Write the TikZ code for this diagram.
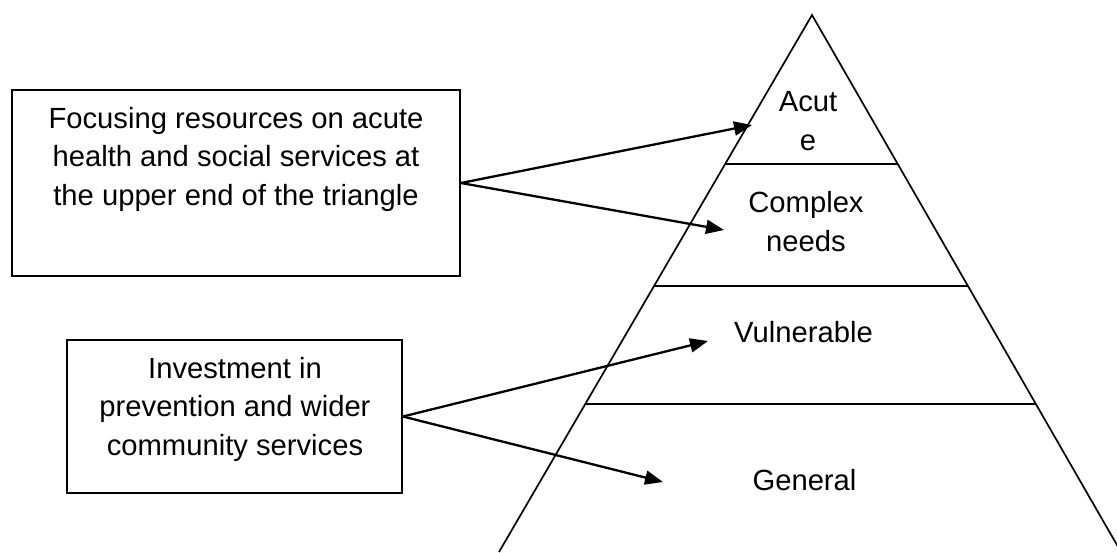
\documentclass[tikz,border=0pt]{standalone}
\usepackage{fontspec}
\setmainfont{Liberation Sans}
\usetikzlibrary{calc,arrows.meta}
\tikzset{
  lbl/.style={inner sep=0pt, align=center, font=\fontsize{14.6}{19.25}\selectfont},
  boxshape/.style={draw, line width=0.9pt, inner sep=0pt},
  tri/.style={line width=0.85pt, line join=miter},
  band/.style={line width=0.9pt},
  arr/.style={line width=1.15pt, -{Triangle[length=9pt,width=7pt]}}
}
\begin{document}
\begin{tikzpicture}[x=0.5pt,y=-0.5pt]
\useasboundingbox (0,0) rectangle (1117,552);
\clip (0,0) rectangle (1117,552);
% triangle
\coordinate (apex) at (812,15);
\coordinate (bl) at (499,552);
\coordinate (br) at (1121,552);
\draw[tri] (bl) -- (apex) -- (br);
\draw[band] ($(apex)!0.2775!(bl)$) -- ($(apex)!0.2775!(br)$);
\draw[band] ($(apex)!0.5047!(bl)$) -- ($(apex)!0.5047!(br)$);
\draw[band] ($(apex)!0.7244!(bl)$) -- ($(apex)!0.7244!(br)$);
% level labels
\node[lbl] (acute) at (808,121) {Acut\\e};
\node[lbl] (complex) at (806,221.5) {Complex\\needs};
\node[lbl, anchor=base] (vuln) at (803.5,342) {Vulnerable};
\node[lbl, anchor=base] (general) at (804.5,490) {General};
% boxes
\node[boxshape, minimum width=224pt, minimum height=93pt] (box1) at (236,183) {};
\node[lbl] (t1) at (236,159) {Focusing resources on acute\\health and social services at\\the upper end of the triangle};
\node[boxshape, minimum width=167.5pt, minimum height=76.5pt] (box2) at (234.5,416.5) {};
\node[lbl] (t2) at (235,409) {Investment in\\prevention and wider\\community services};
% arrow tips
\coordinate (a1) at (752,125);
\coordinate (a2) at (724,230);
\coordinate (a3) at (708,341);
\coordinate (a4) at (663,482);
\draw[arr] (box1.east) -- (a1);
\draw[arr] (box1.east) -- (a2);
\draw[arr] (box2.east) -- (a3);
\draw[arr] (box2.east) -- (a4);
\end{tikzpicture}
\end{document}
